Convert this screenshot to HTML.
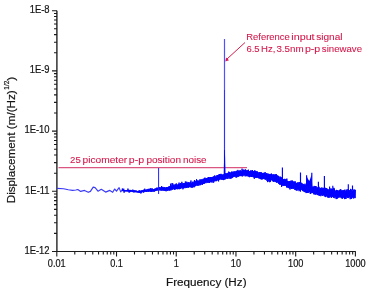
<!DOCTYPE html>
<html><head><meta charset="utf-8"><style>
html,body{margin:0;padding:0;background:#fff;width:369px;height:293px;overflow:hidden}
svg{position:absolute;left:0;top:0;will-change:transform}
text{font-family:"Liberation Sans",sans-serif}
</style></head><body>
<svg width="369" height="293" viewBox="0 0 369 293">
<path d="M56.9 10.7 V251.5" stroke="#1c1c1c" stroke-width="1.35" fill="none"/><path d="M52 251.5 H355.8" stroke="#1c1c1c" stroke-width="1.05" fill="none"/>
<path d="M52 251.50H57M54 233.38H57M54 222.78H57M54 215.26H57M54 209.42H57M54 204.66H57M54 200.63H57M54 197.13H57M54 194.05H57M52 191.30H57M54 173.18H57M54 162.58H57M54 155.06H57M54 149.22H57M54 144.46H57M54 140.43H57M54 136.93H57M54 133.85H57M52 131.10H57M54 112.98H57M54 102.38H57M54 94.86H57M54 89.02H57M54 84.26H57M54 80.23H57M54 76.73H57M54 73.65H57M52 70.90H57M54 52.78H57M54 42.18H57M54 34.66H57M54 28.82H57M54 24.06H57M54 20.03H57M54 16.53H57M54 13.45H57M52 10.70H57M56.80 251.5V256.5M74.78 251.5V254.5M85.29 251.5V254.5M92.76 251.5V254.5M98.54 251.5V254.5M103.27 251.5V254.5M107.27 251.5V254.5M110.73 251.5V254.5M113.79 251.5V254.5M116.52 251.5V256.5M134.50 251.5V254.5M145.01 251.5V254.5M152.48 251.5V254.5M158.26 251.5V254.5M162.99 251.5V254.5M166.99 251.5V254.5M170.45 251.5V254.5M173.51 251.5V254.5M176.24 251.5V256.5M194.22 251.5V254.5M204.73 251.5V254.5M212.20 251.5V254.5M217.98 251.5V254.5M222.71 251.5V254.5M226.71 251.5V254.5M230.17 251.5V254.5M233.23 251.5V254.5M235.96 251.5V256.5M253.94 251.5V254.5M264.45 251.5V254.5M271.92 251.5V254.5M277.70 251.5V254.5M282.43 251.5V254.5M286.43 251.5V254.5M289.89 251.5V254.5M292.95 251.5V254.5M295.68 251.5V256.5M313.66 251.5V254.5M324.17 251.5V254.5M331.64 251.5V254.5M337.42 251.5V254.5M342.15 251.5V254.5M346.15 251.5V254.5M349.61 251.5V254.5M352.67 251.5V254.5M355.40 251.5V256.5" stroke="#1c1c1c" stroke-width="1.1" fill="none"/>
<text transform="translate(49.6 253.85) scale(0.945 1)" font-size="10.0" text-anchor="end" fill="#141414" stroke="#141414" stroke-width="0.2">1E-12</text>
<text transform="translate(49.6 193.65) scale(0.945 1)" font-size="10.0" text-anchor="end" fill="#141414" stroke="#141414" stroke-width="0.2">1E-11</text>
<text transform="translate(49.6 133.45) scale(0.945 1)" font-size="10.0" text-anchor="end" fill="#141414" stroke="#141414" stroke-width="0.2">1E-10</text>
<text transform="translate(49.6 73.25) scale(0.945 1)" font-size="10.0" text-anchor="end" fill="#141414" stroke="#141414" stroke-width="0.2">1E-9</text>
<text transform="translate(49.6 13.05) scale(0.945 1)" font-size="10.0" text-anchor="end" fill="#141414" stroke="#141414" stroke-width="0.2">1E-8</text>
<text transform="translate(56.80 266.9) scale(0.92 1)" font-size="10.0" text-anchor="middle" fill="#141414" stroke="#141414" stroke-width="0.2">0.01</text>
<text transform="translate(116.52 266.9) scale(0.92 1)" font-size="10.0" text-anchor="middle" fill="#141414" stroke="#141414" stroke-width="0.2">0.1</text>
<text transform="translate(176.24 266.9) scale(0.92 1)" font-size="10.0" text-anchor="middle" fill="#141414" stroke="#141414" stroke-width="0.2">1</text>
<text transform="translate(235.96 266.9) scale(0.92 1)" font-size="10.0" text-anchor="middle" fill="#141414" stroke="#141414" stroke-width="0.2">10</text>
<text transform="translate(295.68 266.9) scale(0.92 1)" font-size="10.0" text-anchor="middle" fill="#141414" stroke="#141414" stroke-width="0.2">100</text>
<text transform="translate(355.40 266.9) scale(0.92 1)" font-size="10.0" text-anchor="middle" fill="#141414" stroke="#141414" stroke-width="0.2">1000</text>
<text x="166" y="285.6" font-size="11.7" fill="#141414" stroke="#141414" stroke-width="0.2">Frequency (Hz)</text>
<text transform="translate(15.3 203.3) rotate(-90)" font-size="11.7" fill="#141414" stroke="#141414" stroke-width="0.2">Displacement (m/(Hz)<tspan font-size="6.5" dy="-6" dx="0.6">1/2</tspan><tspan dy="6">)</tspan></text>
<text x="246.33" y="40.3" font-size="9.9" fill="#d41a4c" stroke="#d41a4c" stroke-width="0.1" textLength="43.39" lengthAdjust="spacingAndGlyphs">Reference</text>
<text x="291.38" y="40.3" font-size="9.9" fill="#d41a4c" stroke="#d41a4c" stroke-width="0.1" textLength="23.19" lengthAdjust="spacingAndGlyphs">input</text>
<text x="316.22" y="40.3" font-size="9.9" fill="#d41a4c" stroke="#d41a4c" stroke-width="0.1" textLength="26.36" lengthAdjust="spacingAndGlyphs">signal</text>
<text x="246.42" y="52.4" font-size="9.9" fill="#d41a4c" stroke="#d41a4c" stroke-width="0.1" textLength="13.18" lengthAdjust="spacingAndGlyphs">6.5</text>
<text x="261.02" y="52.4" font-size="9.9" fill="#d41a4c" stroke="#d41a4c" stroke-width="0.1" textLength="14.34" lengthAdjust="spacingAndGlyphs">Hz,</text>
<text x="276.43" y="52.4" font-size="9.9" fill="#d41a4c" stroke="#d41a4c" stroke-width="0.1" textLength="27.22" lengthAdjust="spacingAndGlyphs">3.5nm</text>
<text x="304.92" y="52.4" font-size="9.9" fill="#d41a4c" stroke="#d41a4c" stroke-width="0.1" textLength="15.33" lengthAdjust="spacingAndGlyphs">p-p</text>
<text x="321.83" y="52.4" font-size="9.9" fill="#d41a4c" stroke="#d41a4c" stroke-width="0.1" textLength="40.2" lengthAdjust="spacingAndGlyphs">sinewave</text>
<text x="70.12" y="163.3" font-size="9.9" fill="#d41a4c" stroke="#d41a4c" stroke-width="0.1" textLength="10.69" lengthAdjust="spacingAndGlyphs">25</text>
<text x="82.54" y="163.3" font-size="9.9" fill="#d41a4c" stroke="#d41a4c" stroke-width="0.1" textLength="44.73" lengthAdjust="spacingAndGlyphs">picometer</text>
<text x="128.82" y="163.3" font-size="9.9" fill="#d41a4c" stroke="#d41a4c" stroke-width="0.1" textLength="15.33" lengthAdjust="spacingAndGlyphs">p-p</text>
<text x="146.45" y="163.3" font-size="9.9" fill="#d41a4c" stroke="#d41a4c" stroke-width="0.1" textLength="34.6" lengthAdjust="spacingAndGlyphs">position</text>
<text x="182.94" y="163.3" font-size="9.9" fill="#d41a4c" stroke="#d41a4c" stroke-width="0.1" textLength="23.7" lengthAdjust="spacingAndGlyphs">noise</text>
<path d="M58.5 167.6H247" stroke="#da5580" stroke-width="1.4" fill="none"/>
<path d="M245 42.5L227 59" stroke="#d41a4c" stroke-width="1" fill="none"/><path d="M225.3 61.6L226.1 57.6L229 60.2Z" fill="#d41a4c"/>
<path d="M57.0,188.4 63.6,188.7 68.3,189.8 72.6,190.4 75.9,190.0 77.8,189.5 80.7,191.4 84.5,190.4 88.3,192.3 90.4,191.4 93.2,187.1 95.1,187.6 98.0,191.2 101.3,189.3 105.6,192.1 109.8,190.4 112.7,192.3 114.6,189.0 116.5,191.2 119.1,187.6 120.7,191.9 122.0,190.4" stroke="#3a3af8" stroke-width="1.15" fill="none" stroke-linejoin="round"/>
<path d="M122.00,191.0 122.35,188.5 122.70,191.1 123.05,189.9 123.40,191.2 123.75,188.7 124.10,192.7 124.45,190.0 124.80,191.5 125.15,190.0 125.50,191.3 125.85,190.0 126.20,191.3 126.55,190.0 126.90,191.5 127.25,190.1 127.60,191.4 127.95,188.6 128.30,191.5 128.65,189.9 129.00,192.5 129.35,189.9 129.70,192.3 130.05,190.0 130.40,191.8 130.75,189.9 131.10,191.6 131.45,190.2 131.80,191.8 132.15,190.5 132.50,191.9 132.85,189.6 133.20,192.2 133.55,190.3 133.90,192.4 134.25,190.6 134.60,192.2 134.95,190.0 135.30,192.2 135.65,190.8 136.00,192.2 136.35,190.6 136.70,192.3 137.05,190.9 137.40,192.4 137.75,191.0 138.10,192.7 138.45,191.1 138.80,192.7 139.15,190.1 139.50,192.8 139.85,190.8 140.20,192.6 140.55,190.8 140.90,193.5 141.25,190.4 141.60,192.6 141.95,190.4 142.30,192.2 142.65,190.2 143.00,191.9 143.35,189.9 143.70,192.7 144.05,189.6 144.40,191.8 144.75,188.7 145.10,191.9 145.45,189.8 145.80,191.7 146.15,189.7 146.50,192.0 146.85,189.4 147.20,191.7 147.55,189.4 147.90,191.6 148.25,188.8 148.60,191.7 148.95,189.0 149.30,191.5 149.65,188.8 150.00,191.4 150.35,188.4 150.70,191.8 151.05,188.4 151.40,191.8 151.75,188.7 152.10,191.7 152.45,188.6 152.80,191.5 153.15,189.0 153.50,191.4 153.85,189.1 154.20,191.8 154.55,188.8 154.90,191.2 155.25,188.5 155.60,191.0 155.95,188.3 156.30,190.8 156.65,187.7 157.00,190.4 157.35,187.9 157.70,190.4 158.05,187.5 158.40,190.6 158.75,187.2 159.10,190.4 159.45,187.2 159.80,190.2 160.15,187.5 160.50,190.3 160.85,187.3 161.20,190.7 161.55,186.1 161.90,190.5 162.25,186.9 162.60,190.4 162.95,186.9 163.30,190.6 163.65,187.4 164.00,190.6 164.35,187.2 164.70,190.8 165.05,187.3 165.40,190.8 165.75,187.7 166.10,191.3 166.45,187.2 166.80,190.6 167.15,187.0 167.50,190.7 167.85,187.1 168.20,190.6 168.55,186.7 168.90,190.2 169.25,186.2 169.60,190.6 169.95,186.1 170.30,190.2 170.65,183.7 171.00,190.4 171.35,185.5 171.70,189.5 172.05,183.1 172.40,189.6 172.75,183.4 173.10,189.4 173.45,184.7 173.80,189.0 174.15,185.3 174.50,189.7 174.85,184.4 175.20,189.5 175.55,184.4 175.90,189.2 176.25,183.4 176.60,189.0 176.95,184.6 177.30,189.2 177.65,184.7 178.00,189.2 178.35,183.9 178.70,188.9 179.05,182.6 179.40,189.2 179.75,183.9 180.10,188.3 180.45,183.0 180.80,189.0 181.15,183.5 181.50,187.9 181.85,181.8 182.20,187.7 182.55,183.5 182.90,189.3 183.25,183.2 183.60,188.3 183.95,183.1 184.30,187.8 184.65,183.2 185.00,188.2 185.35,181.5 185.70,187.7 186.05,182.9 186.40,187.8 186.75,181.7 187.10,187.9 187.45,182.7 187.80,187.3 188.15,182.3 188.50,187.6 188.85,182.1 189.20,187.2 189.55,182.8 189.90,187.1 190.25,182.2 190.60,187.2 190.95,180.5 191.30,187.6 191.65,182.9 192.00,187.5 192.35,182.1 192.70,187.6 193.05,181.5 193.40,186.7 193.75,182.5 194.10,187.3 194.45,180.1 194.80,186.7 195.15,181.2 195.50,186.0 195.85,180.8 196.20,185.1 196.55,179.2 196.90,185.9 197.25,180.7 197.60,185.5 197.95,180.3 198.30,185.5 198.65,180.9 199.00,185.6 199.35,180.4 199.70,184.7 200.05,179.2 200.40,185.2 200.75,179.9 201.10,184.5 201.45,179.4 201.80,184.5 202.15,179.9 202.50,184.7 202.85,178.9 203.20,184.0 203.55,178.9 203.90,184.0 204.25,178.1 204.60,183.5 204.95,177.6 205.30,182.8 205.65,178.4 206.00,183.2 206.35,178.0 206.70,182.4 207.05,178.2 207.40,182.7 207.75,177.6 208.10,182.4 208.45,177.0 208.80,182.9 209.15,177.0 209.50,182.8 209.85,177.6 210.20,182.1 210.55,177.0 210.90,182.3 211.25,177.0 211.60,182.3 211.95,177.2 212.30,181.4 212.65,176.9 213.00,182.7 213.35,176.6 213.70,182.5 214.05,176.1 214.40,181.3 214.75,175.4 215.10,181.1 215.45,176.5 215.80,181.2 216.15,176.5 216.50,181.1 216.85,175.2 217.20,180.4 217.55,175.1 217.90,180.4 218.25,175.0 218.60,181.4 218.95,174.3 219.30,179.8 219.65,174.0 220.00,179.6 220.35,174.3 220.70,179.2 221.05,173.8 221.40,179.6 221.75,174.5 222.10,179.7 222.45,174.9 222.80,179.8 223.15,174.1 223.50,180.1 223.85,174.8 224.20,179.5 224.55,174.2 224.90,179.7 225.25,173.6 225.60,179.0 225.95,173.0 226.30,178.4 226.65,173.6 227.00,178.8 227.35,173.2 227.70,178.7 228.05,172.8 228.40,177.5 228.75,171.6 229.10,178.9 229.45,172.0 229.80,177.8 230.15,172.8 230.50,178.6 230.85,172.3 231.20,178.5 231.55,171.7 231.90,178.1 232.25,171.6 232.60,177.7 232.95,172.5 233.30,177.1 233.65,171.5 234.00,176.8 234.35,171.7 234.70,176.7 235.05,171.0 235.40,176.6 235.75,171.9 236.10,177.7 236.45,170.8 236.80,177.3 237.15,171.3 237.50,176.6 237.85,169.9 238.20,176.8 238.55,170.8 238.90,176.5 239.25,170.8 239.60,176.0 239.95,170.3 240.30,176.0 240.65,170.4 241.00,176.2 241.35,171.2 241.70,176.1 242.05,168.7 242.40,176.4 242.75,169.9 243.10,176.1 243.45,169.7 243.80,175.1 244.15,169.8 244.50,175.4 244.85,169.9 245.20,176.4 245.55,169.4 245.90,175.7 246.25,170.3 246.60,176.2 246.95,170.4 247.30,176.0 247.65,170.3 248.00,176.5 248.35,169.7 248.70,176.5 249.05,171.0 249.40,177.2 249.75,171.1 250.10,176.6 250.45,170.6 250.80,176.8 251.15,170.5 251.50,177.0 251.85,170.6 252.20,176.6 252.55,170.2 252.90,177.1 253.25,171.0 253.60,177.3 253.95,171.4 254.30,178.8 254.65,170.4 255.00,177.9 255.35,170.8 255.70,177.7 256.05,171.9 256.40,177.8 256.75,171.1 257.10,177.8 257.45,171.6 257.80,177.7 258.15,172.6 258.50,178.1 258.85,172.3 259.20,178.7 259.55,172.1 259.90,178.4 260.25,172.3 260.60,179.1 260.95,172.1 261.30,179.4 261.65,172.5 262.00,179.4 262.35,173.0 262.70,179.2 263.05,173.5 263.40,178.8 263.75,172.8 264.10,178.8 264.45,172.8 264.80,179.4 265.15,172.1 265.50,179.6 265.85,173.4 266.20,179.4 266.55,173.3 266.90,180.8 267.25,173.4 267.60,182.1 267.95,174.5 268.30,181.5 268.65,173.7 269.00,180.3 269.35,174.2 269.70,182.2 270.05,174.0 270.40,181.9 270.75,173.9 271.10,180.2 271.45,173.6 271.80,180.3 272.15,174.2 272.50,180.9 272.85,174.9 273.20,181.7 273.55,174.4 273.90,181.9 274.25,174.7 274.60,181.3 274.95,174.4 275.30,182.1 275.65,174.4 276.00,181.6 276.35,174.2 276.70,182.8 277.05,175.5 277.40,182.2 277.75,175.4 278.10,183.0 278.45,176.0 278.80,184.0 279.15,176.5 279.50,184.5 279.85,177.6 280.20,184.5 280.55,176.7 280.90,184.9 281.25,177.2 281.60,187.0 281.95,177.7 282.30,185.5 282.65,178.8 283.00,185.9 283.35,179.2 283.70,185.7 284.05,179.3 284.40,185.7 284.75,178.8 285.10,185.6 285.45,179.5 285.80,185.9 286.15,179.2 286.50,187.4 286.85,178.6 287.20,187.1 287.55,180.9 287.90,187.9 288.25,181.2 288.60,188.0 288.95,181.4 289.30,188.4 289.65,181.0 290.00,189.5 290.35,181.1 290.70,188.3 291.05,180.5 291.40,189.0 291.75,180.8 292.10,188.6 292.45,180.6 292.80,188.8 293.15,181.6 293.50,188.7 293.85,181.5 294.20,188.6 294.55,181.7 294.90,190.0 295.25,181.4 295.60,190.1 295.95,183.0 296.30,190.3 296.65,182.9 297.00,190.8 297.35,182.6 297.70,189.6 298.05,182.4 298.40,189.7 298.75,182.5 299.10,191.2 299.45,182.2 299.80,190.2 300.15,182.5 300.50,191.5 300.85,182.4 301.20,189.6 301.55,183.2 301.90,190.1 302.25,183.5 302.60,190.9 302.95,183.9 303.30,191.3 303.65,184.2 304.00,191.5 304.35,184.6 304.70,192.1 305.05,183.7 305.40,192.1 305.75,184.8 306.10,193.1 306.45,185.0 306.80,193.0 307.15,183.4 307.50,193.0 307.85,184.6 308.20,193.0 308.55,185.7 308.90,192.0 309.25,184.1 309.60,192.3 309.95,185.1 310.30,194.0 310.65,185.8 311.00,193.4 311.35,186.1 311.70,192.8 312.05,186.1 312.40,193.0 312.75,186.8 313.10,193.2 313.45,186.8 313.80,194.3 314.15,185.9 314.50,194.1 314.85,186.1 315.20,194.9 315.55,186.1 315.90,193.9 316.25,186.4 316.60,194.3 316.95,187.7 317.30,195.1 317.65,187.4 318.00,194.9 318.35,187.3 318.70,195.4 319.05,186.8 319.40,195.8 319.75,188.4 320.10,195.0 320.45,187.9 320.80,196.2 321.15,188.1 321.50,194.8 321.85,187.4 322.20,196.0 322.55,188.4 322.90,195.3 323.25,187.8 323.60,195.3 323.95,188.2 324.30,196.2 324.65,188.8 325.00,196.6 325.35,187.8 325.70,197.1 326.05,188.3 326.40,196.0 326.75,188.1 327.10,196.9 327.45,189.2 327.80,197.6 328.15,189.6 328.50,197.5 328.85,189.4 329.20,197.8 329.55,190.0 329.90,196.9 330.25,188.5 330.60,196.6 330.95,189.8 331.30,198.0 331.65,188.6 332.00,196.9 332.35,189.2 332.70,196.9 333.05,189.5 333.40,197.8 333.75,187.8 334.10,196.6 334.45,188.6 334.80,198.2 335.15,190.5 335.50,197.2 335.85,190.7 336.20,199.1 336.55,189.9 336.90,199.0 337.25,190.1 337.60,198.3 337.95,190.3 338.30,197.6 338.65,190.9 339.00,197.6 339.35,190.1 339.70,197.2 340.05,189.6 340.40,197.1 340.75,189.2 341.10,198.1 341.45,190.5 341.80,198.4 342.15,190.2 342.50,198.6 342.85,190.5 343.20,197.4 343.55,190.3 343.90,198.1 344.25,189.9 344.60,199.1 344.95,189.7 345.30,198.8 345.65,191.1 346.00,198.9 346.35,189.6 346.70,197.3 347.05,190.7 347.40,197.8 347.75,189.3 348.10,197.9 348.45,189.5 348.80,198.1 349.15,190.1 349.50,197.0 349.85,190.3 350.20,199.2 350.55,188.9 350.90,198.0 351.25,189.6 351.60,198.9 351.95,189.8 352.30,197.4 352.65,190.6 353.00,197.9 353.35,189.8 353.70,198.5 354.05,189.6 354.40,197.7 354.75,189.7 355.10,198.1 355.45,189.9" stroke="#0000ff" stroke-width="1" fill="none"/>
<path d="M282.4 167.5V180M300.5 172.5V184M306.6 175.2V185M311.8 172.8V186M318.4 181.7V188M324.4 176V189M329.6 186.6V190M332.8 185.8V190M348.3 184.2V190M352.5 185.6V190" stroke="#0000ff" stroke-width="1.15" fill="none"/>
<path d="M224.5 39V90" stroke="#5050ff" stroke-width="1.2" fill="none"/><path d="M224.5 90V178" stroke="#3030ff" stroke-width="1.15" fill="none"/><path d="M224.3 150L224.9 150L225.6 178L223.6 178Z" fill="#0000ff"/><path d="M158.6 168V194" stroke="#2020ff" stroke-width="1" fill="none"/>
<path d="M306.3 186L306.8 176.5L308 179L309.3 181L310.5 178L311.5 174.5L312.3 186Z" fill="#0000ff"/>
</svg>
</body></html>
